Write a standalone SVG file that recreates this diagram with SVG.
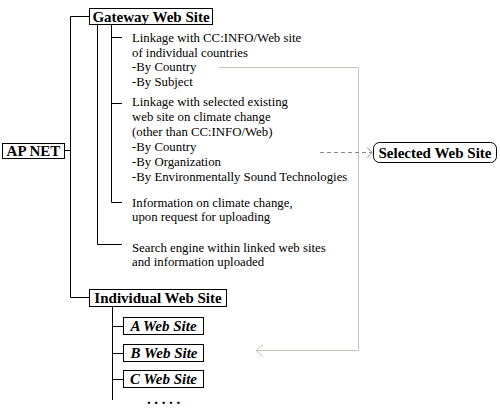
<svg xmlns="http://www.w3.org/2000/svg" width="500" height="410" viewBox="0 0 500 410">
<style>
.box{fill:#fff;stroke:#000;stroke-width:1}
.t{fill:#000}
.b{font-size:15px;font-weight:bold}
.bi{font-size:15px;font-weight:bold;font-style:italic}
.n{font-size:12.8px}
.ln{fill:none;stroke:#000;stroke-width:1}
.gr{fill:none;stroke:#c4c4bc;stroke-width:1}
.ds{fill:none;stroke:#888;stroke-width:1;stroke-dasharray:4,3}
</style>
<defs>
<marker id="ag" markerWidth="10" markerHeight="14" refX="8" refY="7" orient="auto" markerUnits="userSpaceOnUse">
<path d="M1,1 L8,7 L1,13" fill="none" stroke="#c4c4bc" stroke-width="1"/>
</marker>
<marker id="ad" markerWidth="10" markerHeight="12" refX="7" refY="6" orient="auto" markerUnits="userSpaceOnUse">
<path d="M2,1 L7,6 L2,11" fill="none" stroke="#888" stroke-width="1"/>
</marker>
</defs>
<g id="connectors">
<path class="ln" d="M64.5,150.5 H70.5"/>
<path class="ln" d="M89.5,16.5 H70.5 V297.5 H89.5"/>
<path class="ln" d="M97.5,24 V244.5 H122"/>
<path class="ln" d="M111.5,24 V202.5 H122"/>
<path class="ln" d="M111.5,37.5 H122"/>
<path class="ln" d="M111.5,103.5 H122"/>
<path class="ln" d="M112.5,307 V400"/>
<path class="ln" d="M112.5,326.5 H123"/>
<path class="ln" d="M112.5,353.5 H123"/>
<path class="ln" d="M112.5,379.5 H123"/>
<path class="gr" d="M219,67.5 H358.5 V350.5 H256" marker-end="url(#ag)"/>
<path class="ds" d="M320,152.5 H372" marker-end="url(#ad)"/>
</g>
<g font-family="'Liberation Serif', 'DejaVu Serif', serif">
<g id="apnet">
<rect class="box" x="2.5" y="143.5" width="62" height="15"/>
<text class="t b" x="33.5" y="156" text-anchor="middle">AP NET</text>
</g>
<g id="gateway">
<rect class="box" x="89.5" y="8.5" width="123" height="16"/>
<text class="t b" x="151" y="21.5" text-anchor="middle">Gateway Web Site</text>
</g>
<g id="linkage-ccinfo">
<text class="t n" x="132" y="42">Linkage with CC:INFO/Web site</text>
<text class="t n" x="132" y="56.7">of individual countries</text>
<text class="t n" x="132" y="71.4">-By Country</text>
<text class="t n" x="132" y="86.1">-By Subject</text>
</g>
<g id="linkage-selected">
<text class="t n" x="132" y="106">Linkage with selected existing</text>
<text class="t n" x="132" y="121">web site on climate change</text>
<text class="t n" x="132" y="136">(other than CC:INFO/Web)</text>
<text class="t n" x="132" y="151">-By Country</text>
<text class="t n" x="132" y="166">-By Organization</text>
<text class="t n" x="132" y="181">-By Environmentally Sound Technologies</text>
</g>
<g id="information">
<text class="t n" x="132" y="207">Information on climate change,</text>
<text class="t n" x="132" y="221">upon request for uploading</text>
</g>
<g id="search">
<text class="t n" x="132" y="252">Search engine within linked web sites</text>
<text class="t n" x="132" y="265.5">and information uploaded</text>
</g>
<g id="selected">
<rect class="box" x="373.5" y="142.5" width="123" height="20" rx="6" ry="6"/>
<text class="t b" x="435" y="157.5" text-anchor="middle">Selected Web Site</text>
</g>
<g id="individual">
<rect class="box" x="89.5" y="289.5" width="137" height="17"/>
<text class="t b" x="158" y="303" text-anchor="middle">Individual Web Site</text>
</g>
<g id="a-site">
<rect class="box" x="123.5" y="317.5" width="80" height="17"/>
<text class="t bi" x="163.5" y="331" text-anchor="middle">A Web Site</text>
</g>
<g id="b-site">
<rect class="box" x="123.5" y="344.5" width="80" height="17"/>
<text class="t bi" x="164" y="358" text-anchor="middle">B Web Site</text>
</g>
<g id="c-site">
<rect class="box" x="123.5" y="370.5" width="80" height="17"/>
<text class="t bi" x="163.5" y="384" text-anchor="middle">C Web Site</text>
</g>
<g id="more">
<text class="t b" x="147" y="404" letter-spacing="3.6">.....</text>
</g>
</g>
</svg>
